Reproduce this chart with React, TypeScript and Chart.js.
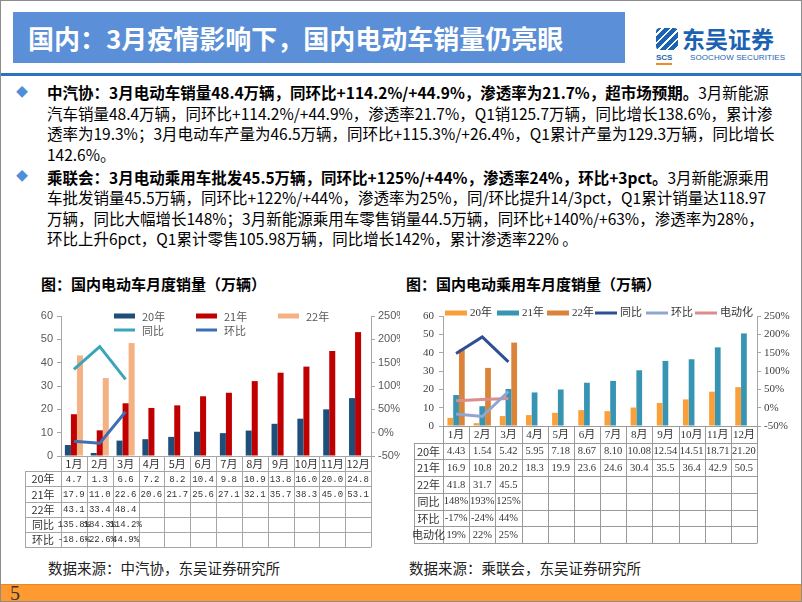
import React, { useEffect, useRef } from "react";
import { Chart, registerables } from "chart.js";
Chart.register(...registerables);

// ---------- data ----------
const months = ["1月", "2月", "3月", "4月", "5月", "6月", "7月", "8月", "9月", "10月", "11月", "12月"];

// 中汽协 (CAAM) electric vehicle sales, 万辆
const caam20 = [4.7, 1.3, 6.6, 7.2, 8.2, 10.4, 9.8, 10.9, 13.8, 16.0, 20.0, 24.8];
const caam21 = [17.9, 11.0, 22.6, 20.6, 21.7, 25.6, 27.1, 32.1, 35.7, 38.3, 45.0, 53.1];
const caam22 = [43.1, 33.4, 48.4];
const caamYoY = [135.8, 184.3, 114.2];
const caamMoM = [-18.6, -22.6, 44.9];

// 乘联会 (CPCA) EV passenger car sales, 万辆
const cpca20 = [4.43, 1.54, 5.42, 5.95, 7.18, 8.67, 8.1, 10.08, 12.54, 14.51, 18.71, 21.2];
const cpca21 = [16.9, 10.8, 20.2, 18.3, 19.9, 23.6, 24.6, 30.4, 35.5, 36.4, 42.9, 50.5];
const cpca22 = [41.8, 31.7, 45.5];
const cpcaYoY = [148, 193, 125];
const cpcaMoM = [-17, -24, 44];
const cpcaPen = [19, 22, 25];

const leftTicks1 = { min: 0, max: 60, step: 10 };
const rightTicks1 = { min: -50, max: 250, step: 50 };

// ---------- helpers ----------
const pad = (a: (number | null)[]) => months.map((_, i) => (a[i] === undefined ? null : a[i]));
const fmt = (a: number[], d: number, suf = "") => months.map((_, i) => (a[i] === undefined ? "" : a[i].toFixed(d) + suf));

type LegendItem = { x: number; y: number; ds: number; kind: "bar" | "line" };
type TableCfg = {
  rows: { label: string; cells: string[] }[];
  rowH: number;
  tableLeft: number;
  lineColor: string;
  monthFont: string;
  cellFont: string;
  labelFont: string;
  textColor: string;
  spacing: string;
  leftBorder: boolean;
  legend: LegendItem[];
  legendFont: string;
  legendColor: string;
  symW: number;
  textDx: number;
};

function tablePlugin(cfg: TableCfg) {
  return {
    id: "tableLegend",
    afterDraw(chart: any) {
      const ctx: CanvasRenderingContext2D = chart.ctx;
      const xs = chart.scales.x;
      const { left, right, bottom } = chart.chartArea;
      const n = chart.data.labels.length;
      const cw = (right - left) / n;
      const nRows = cfg.rows.length + 1;
      ctx.save();
      ctx.strokeStyle = cfg.lineColor;
      ctx.lineWidth = 1;
      ctx.beginPath();
      const y0 = Math.round(bottom) + 0.5;
      ctx.moveTo(left, y0);
      ctx.lineTo(right, y0);
      for (let r = 1; r <= nRows; r++) {
        const y = Math.round(bottom + r * cfg.rowH) + 0.5;
        ctx.moveTo(cfg.tableLeft, y);
        ctx.lineTo(right, y);
      }
      for (let i = 0; i <= n; i++) {
        const x = Math.round(left + i * cw) + 0.5;
        ctx.moveTo(x, bottom);
        ctx.lineTo(x, Math.round(bottom + nRows * cfg.rowH) + 0.5);
      }
      if (cfg.leftBorder) {
        const x = Math.round(cfg.tableLeft) + 0.5;
        ctx.moveTo(x, Math.round(bottom + cfg.rowH) + 0.5);
        ctx.lineTo(x, Math.round(bottom + nRows * cfg.rowH) + 0.5);
      }
      ctx.stroke();

      ctx.textAlign = "center";
      ctx.textBaseline = "middle";
      ctx.fillStyle = cfg.textColor;
      ctx.font = cfg.monthFont;
      chart.data.labels.forEach((lab: string, i: number) => {
        ctx.fillText(lab, xs.getPixelForValue(i), bottom + cfg.rowH / 2 + 0.5);
      });
      cfg.rows.forEach((row, r) => {
        const yc = bottom + (r + 1.5) * cfg.rowH + 0.5;
        ctx.font = cfg.labelFont;
        (ctx as any).letterSpacing = "0px";
        ctx.fillText(row.label, (cfg.tableLeft + left) / 2, yc);
        ctx.font = cfg.cellFont;
        (ctx as any).letterSpacing = cfg.spacing;
        row.cells.forEach((c, i) => {
          if (c) ctx.fillText(c, xs.getPixelForValue(i), yc);
        });
      });
      (ctx as any).letterSpacing = "0px";

      // legend
      ctx.textAlign = "left";
      ctx.font = cfg.legendFont;
      cfg.legend.forEach((it) => {
        const ds = chart.data.datasets[it.ds];
        if (it.kind === "bar") {
          ctx.fillStyle = ds.backgroundColor;
          ctx.fillRect(it.x, it.y - 2.5, cfg.symW, 5);
        } else {
          ctx.fillStyle = ds.borderColor;
          ctx.fillRect(it.x, it.y - 1.5, cfg.symW, 3);
        }
        ctx.fillStyle = cfg.legendColor;
        ctx.fillText(ds.label, it.x + cfg.textDx, it.y + 0.5);
      });
      ctx.restore();
    },
  };
}

function EVChart(props: {
  width: number;
  height: number;
  config: any;
  style: React.CSSProperties;
}) {
  const ref = useRef<HTMLCanvasElement>(null);
  useEffect(() => {
    const chart = new Chart(ref.current!, props.config);
    return () => chart.destroy();
  }, []);
  return <canvas ref={ref} width={props.width} height={props.height} style={{ position: "absolute", width: props.width, height: props.height, ...props.style }} />;
}

// ---------- chart 1 (中汽协) ----------
const sans = "'Liberation Sans', 'Noto Sans CJK SC', sans-serif";
const cjk = "'Noto Sans CJK SC', sans-serif";
const serif = "'Liberation Serif', 'Noto Sans CJK SC', serif";
const mono = "'Liberation Mono', 'Noto Sans CJK SC', monospace";

function config1() {
  const axisColor = "#A6A6A6";
  return {
    type: "bar",
    data: {
      labels: months,
      datasets: [
        { type: "bar", label: "20年", data: pad(caam20), backgroundColor: "#1F4E79", yAxisID: "y", order: 1 },
        { type: "bar", label: "21年", data: pad(caam21), backgroundColor: "#C00000", yAxisID: "y", order: 1 },
        { type: "bar", label: "22年", data: pad(caam22), backgroundColor: "#F4B183", yAxisID: "y", order: 1 },
        { type: "line", label: "同比", data: pad(caamYoY), borderColor: "#3AA5BA", backgroundColor: "#3AA5BA", borderWidth: 3, pointRadius: 0, yAxisID: "y1", order: 0 },
        { type: "line", label: "环比", data: pad(caamMoM), borderColor: "#3F6EB5", backgroundColor: "#3F6EB5", borderWidth: 3, pointRadius: 0, yAxisID: "y1", order: 0 },
      ],
    },
    options: {
      responsive: false,
      maintainAspectRatio: false,
      animation: false,
      devicePixelRatio: 1,
      datasets: { bar: { categoryPercentage: 0.7, barPercentage: 1.0 } },
      layout: { padding: { top: 16, left: 0, right: 0, bottom: 0 } },
      plugins: { legend: { display: false }, tooltip: { enabled: false } },
      scales: {
        x: {
          type: "category",
          offset: true,
          grid: { display: false },
          border: { display: false },
          ticks: { display: false },
          afterFit: (s: any) => { s.height = 96; },
        },
        y: {
          position: "left",
          min: leftTicks1.min,
          max: leftTicks1.max,
          ticks: { stepSize: leftTicks1.step, color: "#595959", font: { family: sans, size: 11 }, padding: 4 },
          grid: { drawOnChartArea: false, tickLength: 4, color: axisColor },
          border: { color: axisColor },
          afterFit: (s: any) => { s.width = 41; },
        },
        y1: {
          position: "right",
          min: rightTicks1.min,
          max: rightTicks1.max,
          ticks: { stepSize: rightTicks1.step, color: "#595959", font: { family: sans, size: 11 }, padding: 3, callback: (v: number) => v + "%" },
          grid: { drawOnChartArea: false, tickLength: 4, color: axisColor },
          border: { color: axisColor },
          afterFit: (s: any) => { s.width = 29; },
        },
      },
    },
    plugins: [
      tablePlugin({
        rows: [
          { label: "20年", cells: fmt(caam20, 1) },
          { label: "21年", cells: fmt(caam21, 1) },
          { label: "22年", cells: fmt(caam22, 1) },
          { label: "同比", cells: fmt(caamYoY, 1, "%") },
          { label: "环比", cells: fmt(caamMoM, 1, "%") },
        ],
        rowH: 15.17,
        tableLeft: 5,
        lineColor: "#A6A6A6",
        monthFont: `11px ${cjk}`,
        cellFont: `9px ${mono}`,
        labelFont: `11px ${cjk}`,
        textColor: "#333333",
        spacing: "0px",
        leftBorder: true,
        legend: [
          { x: 94, y: 16, ds: 0, kind: "bar" },
          { x: 176, y: 16, ds: 1, kind: "bar" },
          { x: 258, y: 16, ds: 2, kind: "bar" },
          { x: 94, y: 30, ds: 3, kind: "line" },
          { x: 176, y: 30, ds: 4, kind: "line" },
        ],
        legendFont: `11px ${cjk}`,
        legendColor: "#595959",
        symW: 21,
        textDx: 28,
      }),
    ],
  };
}

// ---------- chart 2 (乘联会) ----------
function config2() {
  const axisColor = "#A6A6A6";
  return {
    type: "bar",
    data: {
      labels: months,
      datasets: [
        { type: "bar", label: "20年", data: pad(cpca20), backgroundColor: "#F9A03A", yAxisID: "y", order: 1 },
        { type: "bar", label: "21年", data: pad(cpca21), backgroundColor: "#3795B3", yAxisID: "y", order: 1 },
        { type: "bar", label: "22年", data: pad(cpca22), backgroundColor: "#D98438", yAxisID: "y", order: 1 },
        { type: "line", label: "同比", data: pad(cpcaYoY), borderColor: "#2E4F93", backgroundColor: "#2E4F93", borderWidth: 3, pointRadius: 0, yAxisID: "y1", order: 0 },
        { type: "line", label: "环比", data: pad(cpcaMoM), borderColor: "#8FA7D0", backgroundColor: "#8FA7D0", borderWidth: 3, pointRadius: 0, yAxisID: "y1", order: 0 },
        { type: "line", label: "电动化", data: pad(cpcaPen), borderColor: "#DB8C8C", backgroundColor: "#DB8C8C", borderWidth: 3, pointRadius: 0, yAxisID: "y1", order: 0 },
      ],
    },
    options: {
      responsive: false,
      maintainAspectRatio: false,
      animation: false,
      devicePixelRatio: 1,
      datasets: { bar: { categoryPercentage: 0.66, barPercentage: 1.0 } },
      layout: { padding: { top: 16, left: 0, right: 0, bottom: 0 } },
      plugins: { legend: { display: false }, tooltip: { enabled: false } },
      scales: {
        x: {
          type: "category",
          offset: true,
          grid: { display: false },
          border: { display: false },
          ticks: { display: false },
          afterFit: (s: any) => { s.height = 124; },
        },
        y: {
          position: "left",
          min: leftTicks1.min,
          max: leftTicks1.max,
          ticks: { stepSize: leftTicks1.step, color: "#404040", font: { family: serif, size: 11 }, padding: 5 },
          grid: { drawOnChartArea: false, tickLength: 4, color: axisColor },
          border: { color: axisColor },
          afterFit: (s: any) => { s.width = 38; },
        },
        y1: {
          position: "right",
          min: rightTicks1.min,
          max: rightTicks1.max,
          ticks: { stepSize: rightTicks1.step, color: "#404040", font: { family: serif, size: 11 }, padding: 3, callback: (v: number) => v + "%" },
          grid: { drawOnChartArea: false, tickLength: 4, color: axisColor },
          border: { color: axisColor },
          afterFit: (s: any) => { s.width = 43; },
        },
      },
    },
    plugins: [
      tablePlugin({
        rows: [
          { label: "20年", cells: fmt(cpca20, 2) },
          { label: "21年", cells: fmt(cpca21, 1) },
          { label: "22年", cells: fmt(cpca22, 1) },
          { label: "同比", cells: fmt(cpcaYoY, 0, "%") },
          { label: "环比", cells: fmt(cpcaMoM, 0, "%") },
          { label: "电动化", cells: fmt(cpcaPen, 0, "%") },
        ],
        rowH: 16.7,
        tableLeft: 9,
        lineColor: "#9A9A9A",
        monthFont: `11px ${serif}`,
        cellFont: `10.5px ${serif}`,
        labelFont: `11px ${cjk}`,
        textColor: "#333333",
        spacing: "0px",
        leftBorder: true,
        legend: [
          { x: 40, y: 13, ds: 0, kind: "bar" },
          { x: 92, y: 13, ds: 1, kind: "bar" },
          { x: 142, y: 13, ds: 2, kind: "bar" },
          { x: 190, y: 13, ds: 3, kind: "line" },
          { x: 241, y: 13, ds: 4, kind: "line" },
          { x: 290, y: 13, ds: 5, kind: "line" },
        ],
        legendFont: `11px ${serif}`,
        legendColor: "#333333",
        symW: 22,
        textDx: 25,
      }),
    ],
  };
}

// ---------- page ----------
const abs = (o: React.CSSProperties): React.CSSProperties => ({ position: "absolute", ...o });

const bullet1 = [
  [
    { b: true, t: "中汽协：3月电动车销量48.4万辆，同环比+114.2%/+44.9%，渗透率为21.7%，超市场预期。" },
    { b: false, t: "3月新能源" },
  ],
  [{ b: false, t: "汽车销量48.4万辆，同环比+114.2%/+44.9%，渗透率21.7%，Q1销125.7万辆，同比增长138.6%，累计渗" }],
  [{ b: false, t: "透率为19.3%；3月电动车产量为46.5万辆，同环比+115.3%/+26.4%，Q1累计产量为129.3万辆，同比增长" }],
  [{ b: false, t: "142.6%。" }],
];
const bullet2 = [
  [
    { b: true, t: "乘联会：3月电动乘用车批发45.5万辆，同环比+125%/+44%，渗透率24%，环比+3pct。" },
    { b: false, t: "3月新能源乘用" },
  ],
  [{ b: false, t: "车批发销量45.5万辆，同环比+122%/+44%，渗透率为25%，同/环比提升14/3pct，Q1累计销量达118.97" }],
  [{ b: false, t: "万辆，同比大幅增长148%；3月新能源乘用车零售销量44.5万辆，同环比+140%/+63%，渗透率为28%，" }],
  [{ b: false, t: "环比上升6pct，Q1累计零售105.98万辆，同比增长142%，累计渗透率22% 。" }],
];

function Lines(props: { lines: { b: boolean; t: string }[][]; tops: number[] }) {
  return (
    <>
      {props.lines.map((ln, i) => (
        <div key={i} style={abs({ left: 46, top: props.tops[i], height: 20, lineHeight: "20px", fontSize: 15.5, whiteSpace: "nowrap", color: "#000" })}>
          {ln.map((s, j) => (
            <span key={j} style={{ fontWeight: s.b ? 700 : 400 }}>{s.t}</span>
          ))}
        </div>
      ))}
    </>
  );
}

export default function App() {
  return (
    <div
      style={{
        position: "absolute",
        left: 0,
        top: 0,
        width: 802,
        height: 602,
        boxSizing: "border-box",
        border: "1px solid #8c8c8c",
        background: "#fff",
        overflow: "hidden",
        fontFamily: cjk,
      }}
    >
      {/* header */}
      <div style={abs({ left: 12, top: 11, width: 612, height: 51, background: "#5B8FD8" })} />
      <div style={abs({ left: 27, top: 11, height: 51, lineHeight: "51px", color: "#fff", fontSize: 26, fontWeight: 700, whiteSpace: "nowrap" })}>
        国内：3月疫情影响下，国内电动车销量仍亮眼
      </div>
      {/* logo */}
      <div
        style={abs({
          left: 655,
          top: 27,
          width: 22,
          height: 22,
          borderRadius: 4,
          background: "repeating-linear-gradient(135deg, #1B63B2 0px, #1B63B2 4px, #fff 4px, #fff 6px)",
        })}
      />
      <div style={abs({ left: 681, top: 22, fontSize: 23, fontWeight: 700, color: "#1B63B2", lineHeight: "30px", whiteSpace: "nowrap" })}>东吴证券</div>
      <div style={abs({ left: 655, top: 52, fontSize: 8, fontWeight: 700, color: "#1B63B2", lineHeight: "10px", fontFamily: sans, borderBottom: "2px solid #F08A24" })}>SCS</div>
      <div style={abs({ left: 689, top: 52, fontSize: 8, color: "#1B63B2", lineHeight: "10px", fontFamily: sans, whiteSpace: "nowrap", letterSpacing: "0.1px" })}>SOOCHOW SECURITIES</div>
      <div style={abs({ left: 0, top: 72, width: 802, height: 3, background: "#2A73C2" })} />

      {/* bullets */}
      <div style={abs({ left: 15, top: 82, fontSize: 12, color: "#4F8FD8", lineHeight: "18px" })}>◆</div>
      <Lines lines={bullet1} tops={[81, 101.5, 122, 142.5]} />
      <div style={abs({ left: 15, top: 166, fontSize: 12, color: "#4F8FD8", lineHeight: "18px" })}>◆</div>
      <Lines lines={bullet2} tops={[165.5, 186, 206.5, 227]} />

      {/* chart titles */}
      <div style={abs({ left: 40, top: 272, fontSize: 15, fontWeight: 700, lineHeight: "22px", whiteSpace: "nowrap" })}>图：国内电动车月度销量（万辆）</div>
      <div style={abs({ left: 405, top: 272, fontSize: 15, fontWeight: 700, lineHeight: "22px", whiteSpace: "nowrap" })}>图：国内电动乘用车月度销量（万辆）</div>

      <EVChart width={380} height={252} config={config1()} style={{ left: 19, top: 299 }} />
      <EVChart width={395} height={250} config={config2()} style={{ left: 404, top: 299 }} />

      {/* sources */}
      <div style={abs({ left: 47, top: 556, fontSize: 14.5, lineHeight: "22px", color: "#222", whiteSpace: "nowrap" })}>数据来源：中汽协，东吴证券研究所</div>
      <div style={abs({ left: 408, top: 556, fontSize: 14.5, lineHeight: "22px", color: "#222", whiteSpace: "nowrap" })}>数据来源：乘联会，东吴证券研究所</div>

      {/* footer */}
      <div style={abs({ left: 0, top: 583, width: 802, height: 19, background: "#FF9A30", borderTop: "1px solid #E88A20" })} />
      <div style={abs({ left: 9, top: 582, fontSize: 20, lineHeight: "20px", fontFamily: serif, color: "#333" })}>5</div>
    </div>
  );
}
